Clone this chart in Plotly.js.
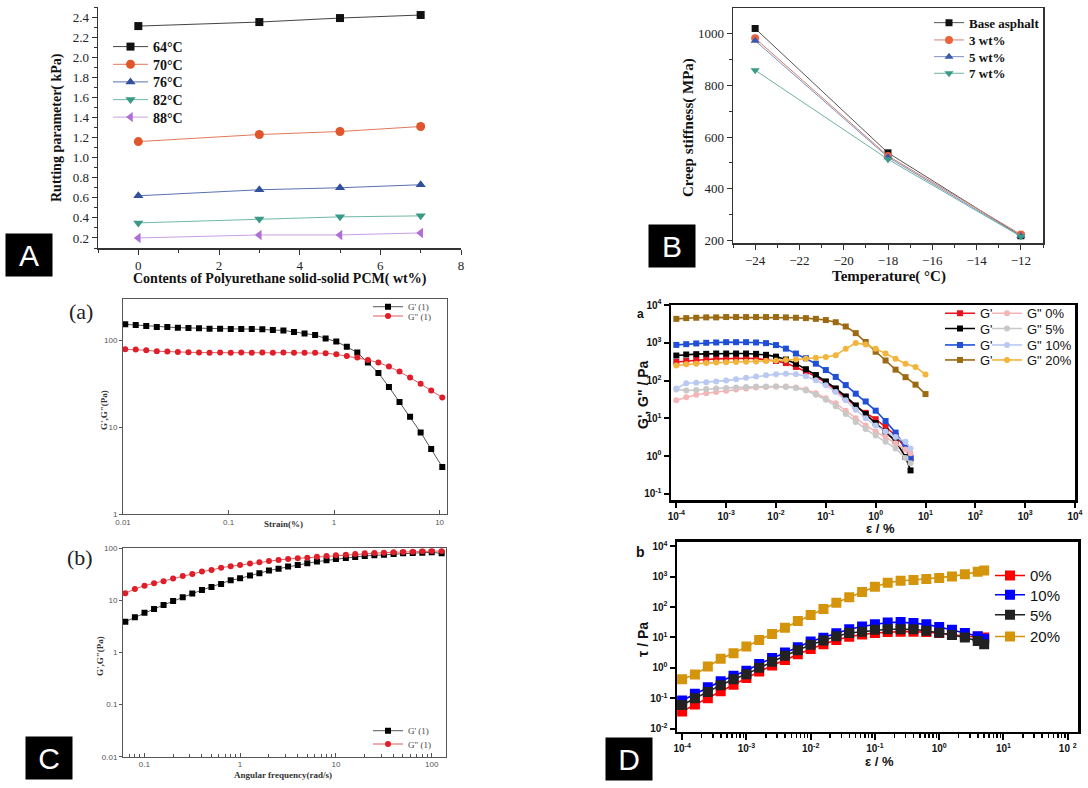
<!DOCTYPE html>
<html><head><meta charset="utf-8">
<script src="https://cdn.plot.ly/plotly-3.0.1.min.js"></script>
<style>body{margin:0;background:#fff}#chart{width:1088px;height:788px}</style>
</head><body><div id="chart"></div>
<script>
// ---------- Panel A: rutting parameter ----------
const pcmContent = [0, 3, 5, 7];
const rut64 = [2.31, 2.35, 2.39, 2.42];
const rut70 = [1.16, 1.23, 1.26, 1.31];
const rut76 = [0.62, 0.68, 0.70, 0.73];
const rut82 = [0.35, 0.39, 0.41, 0.42];
const rut88 = [0.20, 0.23, 0.23, 0.25];
const rutNames = ["64°C", "70°C", "76°C", "82°C", "88°C"];

// ---------- Panel B: creep stiffness ----------
const temps = [-24, -18, -12];
const stiffBase = [1019, 539, 219];
const stiff3 = [981, 527, 224];
const stiff5 = [972, 522, 218];
const stiff7 = [858, 514, 216];
const stiffNames = ["Base asphalt", "3 wt%", "5 wt%", "7 wt%"];

// ---------- Panel C(a): strain sweep ----------
const strainC = [0.0105, 0.0132, 0.0166, 0.0209, 0.0263, 0.0331, 0.0417, 0.0525, 0.0661, 0.0832,
  0.105, 0.132, 0.166, 0.209, 0.263, 0.331, 0.417, 0.525, 0.661, 0.832,
  1.05, 1.32, 1.66, 2.09, 2.63, 3.31, 4.17, 5.25, 6.61, 8.32, 10.6];
const gStrain1 = [154, 151, 147, 144, 144, 141, 140, 139, 137, 137, 136, 136, 136, 135, 133, 131,
  126, 121, 116, 106, 97.5, 85, 72.8, 55.9, 42.5, 29.3, 19.7, 13.3, 8.77, 5.64, 3.50];
const g2Strain1 = [79.4, 78.8, 77.5, 75.4, 75.2, 74.1, 73.5, 72.8, 72.6, 72.8, 72.5, 72.8, 72.6, 72.8, 72.4, 72.8,
  72.6, 72.5, 72.3, 71.5, 69.6, 66.6, 63.8, 60.0, 55.9, 50.2, 44.0, 37.6, 31.8, 26.6, 22.1];

// ---------- Panel C(b): frequency sweep ----------
const freqC = [0.0634, 0.0798, 0.1005, 0.1265, 0.159, 0.2, 0.252, 0.317, 0.4, 0.503,
  0.634, 0.798, 1.0, 1.27, 1.59, 2.0, 2.52, 3.17, 4.0, 5.03,
  6.34, 7.98, 10.0, 12.7, 15.9, 20.0, 25.2, 31.7, 40.0, 50.3,
  63.4, 79.8, 100, 127];
const gFreq1 = [3.91, 4.73, 5.82, 6.84, 8.17, 9.75, 11.5, 13.5, 15.8, 18.1, 20.7, 24.3, 26.5, 29.9, 33.1, 37.3,
  40.7, 44.5, 47.9, 51.5, 55.5, 58.9, 62.4, 65.2, 68.2, 71.3, 73.4, 75.5, 77.8, 80.2, 81.3, 82.6, 83.8, 80];
const g2Freq1 = [13.7, 16.6, 19.2, 21.3, 23.2, 26.2, 29.4, 32.2, 35.7, 38.4, 42.5, 45.1, 47.9, 50.8, 53.8, 57.1,
  59.7, 62.4, 64.3, 66.2, 69.2, 71.3, 73.4, 75.5, 77.8, 80.2, 81.3, 82.6, 83.8, 85.1, 86.3, 87.6, 88.9, 88.9];

// ---------- Panel D(a): amplitude sweep G', G'' ----------
const epsD = [0.0001, 0.000158, 0.000251, 0.000398, 0.000631, 0.001, 0.00158, 0.00251, 0.00398, 0.00631,
  0.01, 0.0158, 0.0251, 0.0398, 0.0631, 0.1, 0.158, 0.251, 0.398, 0.631,
  1.0, 1.58, 2.51, 3.98, 5.01];
const epsD20 = [0.0001, 0.000158, 0.000251, 0.000398, 0.000631, 0.001, 0.00158, 0.00251, 0.00398, 0.00631,
  0.01, 0.0158, 0.0251, 0.0398, 0.0631, 0.1, 0.158, 0.251, 0.398, 0.631,
  1.0, 1.58, 2.51, 3.98, 6.31, 10.0];
const gp0 = [310, 330, 350, 360, 375, 385, 390, 390, 380, 360, 330, 290, 230, 175, 125, 88, 57, 35, 21, 14, 9.5, 6, 3.5, 1.6, 0.85];
const gpp0 = [30, 36, 42, 46, 50, 54, 58, 62, 66, 68, 70, 70, 66, 58, 46, 34, 25, 16, 10, 6.5, 4.5, 3.2, 2.2, 1.5, 1.2];
const gp5 = [460, 490, 500, 510, 520, 520, 520, 520, 510, 480, 430, 360, 280, 200, 140, 95, 62, 38, 22, 13, 7.5, 4.5, 2.5, 0.95, 0.42];
const gpp5 = [58, 55, 56, 60, 62, 64, 66, 68, 70, 70, 70, 68, 64, 55, 42, 31, 21, 13, 8, 5.2, 3.5, 2.4, 1.6, 0.9, 0.65];
const gp10 = [880, 920, 960, 1000, 1020, 1040, 1040, 1040, 1020, 980, 870, 700, 520, 390, 280, 190, 125, 76, 45, 28, 16, 8.5, 4.2, 1.7, 0.9];
const gpp10 = [62, 85, 88, 90, 95, 100, 108, 118, 128, 138, 148, 152, 148, 130, 102, 75, 50, 30, 17, 10, 6.5, 4.5, 3.2, 2.4, 1.6];
const gp20 = [4300, 4500, 4600, 4700, 4700, 4800, 4800, 4800, 4800, 4800, 4800, 4700, 4600, 4500, 4300, 4000, 3500, 2700, 1800, 1050, 580, 340, 195, 123, 78, 44];
const gpp20 = [250, 270, 280, 290, 300, 305, 310, 315, 320, 330, 340, 350, 360, 380, 400, 420, 470, 700, 980, 900, 700, 520, 380, 280, 230, 145];

// ---------- Panel D(b): shear stress ----------
const tau0 = [0.037, 0.062, 0.10, 0.17, 0.28, 0.46, 0.76, 1.2, 1.8, 2.8, 4.2, 6.0, 8.3, 10.5, 12.5, 14, 15, 15.5, 15.5, 15, 14, 12.5, 11, 10.5, 10];
const tau10 = [0.085, 0.14, 0.23, 0.36, 0.55, 0.8, 1.35, 2.1, 3.2, 4.8, 7.3, 9.8, 13.7, 18.7, 23, 27, 31, 32, 30, 27, 22, 18, 14, 11, 9];
const tau5 = [0.06, 0.1, 0.16, 0.27, 0.42, 0.62, 1.0, 1.6, 2.5, 3.8, 5.8, 8.0, 11, 14, 15.5, 17.8, 18.7, 18.7, 18.5, 16.7, 14.4, 12, 10, 7.7, 6];
const tau20 = [0.42, 0.6, 1.1, 2.0, 3.0, 5.0, 8.3, 13, 21, 35, 55, 86, 138, 210, 315, 465, 630, 730, 780, 840, 900, 1020, 1200, 1450, 1580];

// ---------- tick labels ----------
const cStrainTicks = [0.01, 0.1, 1, 10];
const cStrainLabels = ["0.01", "0.1", "1", "10"];
const cModTicksA = [1, 10, 100];
const cModLabelsA = ["1", "10", "100"];
const cFreqTicks = [0.1, 1, 10, 100];
const cFreqLabels = ["0.1", "1", "10", "100"];
const cModTicksB = [0.01, 0.1, 1, 10, 100];
const cModLabelsB = ["0.01", "0.1", "1", "10", "100"];
const dXTicksA = [1e-4, 1e-3, 1e-2, 1e-1, 1, 10, 100, 1000, 10000];
const dXLabelsA = ["10<sup>-4</sup>", "10<sup>-3</sup>", "10<sup>-2</sup>", "10<sup>-1</sup>", "10<sup>0</sup>", "10<sup>1</sup>", "10<sup>2</sup>", "10<sup>3</sup>", "10<sup>4</sup>"];
const dYTicksA = [0.1, 1, 10, 100, 1000, 10000];
const dYLabelsA = ["10<sup>-1</sup>", "10<sup>0</sup>", "10<sup>1</sup>", "10<sup>2</sup>", "10<sup>3</sup>", "10<sup>4</sup>"];
const dXTicksB = [1e-4, 1e-3, 1e-2, 1e-1, 1, 10, 100];
const dXLabelsB = ["10<sup>-4</sup>", "10<sup>-3</sup>", "10<sup>-2</sup>", "10<sup>-1</sup>", "10<sup>0</sup>", "10<sup>1</sup>", "10 <sup>2</sup>"];
const dYTicksB = [0.01, 0.1, 1, 10, 100, 1000, 10000];
const dYLabelsB = ["10<sup>-2</sup>", "10<sup>-1</sup>", "10<sup>0</sup>", "10<sup>1</sup>", "10<sup>2</sup>", "10<sup>3</sup>", "10<sup>4</sup>"];

// ---------- helpers ----------
const W = 1088, H = 788;
const px = v => v / W;
const py = v => 1 - v / H;
const SERIF = "Liberation Serif, Times New Roman, serif";
const SANS = "Liberation Sans, Arial, sans-serif";

const legendSpecs = {};
let legendCount = 0;
function L(x, yc, font, iw) {
  legendCount++;
  const id = legendCount === 1 ? "legend" : "legend" + legendCount;
  legendSpecs[id] = {x: px(x), y: py(yc), xanchor: "left", yanchor: "middle",
    bgcolor: "rgba(0,0,0,0)", borderwidth: 0, font: font, itemwidth: iw || 30};
  return id;
}

function tr(x, y, name, ax, lg, color, symbol, size, lineColor, lw) {
  return {
    type: "scatter", mode: "lines+markers", x: x, y: y, name: name,
    xaxis: "x" + ax, yaxis: "y" + ax, legend: lg,
    marker: {color: color, symbol: symbol, size: size, line: {width: 0}},
    line: {color: lineColor, width: lw}
  };
}

const fA = {family: SERIF, size: 14, color: "#111", weight: "bold"};
const fB = {family: SERIF, size: 13, color: "#111", weight: "bold"};
const fC = {family: SERIF, size: 9, color: "#444"};
const fDa = {family: SANS, size: 13, color: "#111"};
const fDb = {family: SANS, size: 15, color: "#111"};

const traces = [
  tr(pcmContent, rut64, rutNames[0], "", L(108, 47, fA, 35), "#111111", "square", 8, "#444444", 1),
  tr(pcmContent, rut70, rutNames[1], "", L(108, 64.7, fA, 35), "#e0552a", "circle", 9, "#e07a5a", 1),
  tr(pcmContent, rut76, rutNames[2], "", L(108, 82.3, fA, 35), "#33509e", "triangle-up", 9, "#5a70b0", 1),
  tr(pcmContent, rut82, rutNames[3], "", L(108, 100, fA, 35), "#3a9a88", "triangle-down", 9, "#70b8a8", 1),
  tr(pcmContent, rut88, rutNames[4], "", L(108, 117.5, fA, 35), "#b06fd6", "triangle-left", 9, "#c9a0e0", 1),

  tr(temps, stiffBase, stiffNames[0], "2", L(929, 22.7, fB), "#111111", "square", 7, "#555555", 1),
  tr(temps, stiff3, stiffNames[1], "2", L(929, 40, fB), "#e8643c", "circle", 8, "#d08070", 1),
  tr(temps, stiff5, stiffNames[2], "2", L(929, 56.7, fB), "#3a58b0", "triangle-up", 8, "#8090c0", 1),
  tr(temps, stiff7, stiffNames[3], "2", L(929, 73.3, fB), "#3a9a88", "triangle-down", 8, "#70b0a0", 1),

  tr(strainC, gStrain1, "G' (1)", "3", L(368, 306.7, fC), "#000000", "square", 6, "#555555", 1),
  tr(strainC, g2Strain1, 'G" (1)', "3", L(368, 316, fC), "#e01e2a", "circle", 6, "#e05a60", 1),

  tr(freqC, gFreq1, "G' (1)", "4", L(368, 730.7, fC), "#000000", "square", 6, "#555555", 1),
  tr(freqC, g2Freq1, 'G" (1)', "4", L(368, 744, fC), "#e01e2a", "circle", 6, "#e05a60", 1),

  tr(epsD, gp0, "G'", "5", L(940, 313.3, fDa), "#e8141c", "square", 6, "#e8141c", 1.6),
  tr(epsD, gp5, "G'", "5", L(940, 328.5, fDa), "#000000", "square", 6, "#000000", 1.6),
  tr(epsD, gp10, "G'", "5", L(940, 345, fDa), "#1f4fd6", "square", 6, "#1f4fd6", 1.6),
  tr(epsD20, gp20, "G'", "5", L(940, 360, fDa), "#9c6a12", "square", 6, "#9c6a12", 1.6),
  tr(epsD, gpp0, 'G" 0%', "5", L(987, 313.3, fDa), "#f3b5b5", "circle", 6, "#f3b5b5", 1.6),
  tr(epsD, gpp5, 'G" 5%', "5", L(987, 328.5, fDa), "#c8c8c8", "circle", 6, "#c8c8c8", 1.6),
  tr(epsD, gpp10, 'G" 10%', "5", L(987, 345, fDa), "#b9c9f2", "circle", 6, "#b9c9f2", 1.6),
  tr(epsD20, gpp20, 'G" 20%', "5", L(987, 360, fDa), "#f2b43a", "circle", 6, "#f2b43a", 1.6),

  tr(epsD, tau0, "0%", "6", L(990, 575.7, fDb), "#ff0000", "square", 10, "#ff0000", 1.6),
  tr(epsD, tau10, "10%", "6", L(990, 595, fDb), "#0000ff", "square", 10, "#0000ff", 1.6),
  tr(epsD, tau5, "5%", "6", L(990, 615, fDb), "#222222", "square", 10, "#222222", 1.6),
  tr(epsD, tau20, "20%", "6", L(990, 636.7, fDb), "#d4940c", "square", 10, "#d4940c", 1.6)
];

function minorLog(lo, hi) {
  const v = [];
  for (let e = lo; e < hi; e++) for (let d = 2; d <= 9; d++) v.push(d * Math.pow(10, e));
  return v;
}

const tickA = {family: SERIF, size: 13, color: "#222"};
const tickC = {family: SANS, size: 8, color: "#555"};
const tickD = {family: SANS, size: 10, color: "#111", weight: "bold"};

const layout = Object.assign({
  width: W, height: H, margin: {l: 0, r: 0, t: 0, b: 0},
  paper_bgcolor: "#fff", plot_bgcolor: "rgba(0,0,0,0)", showlegend: true,
  // A
  xaxis: {domain: [px(98), px(461)], anchor: "y", range: [-1, 8], dtick: 2, tick0: 0,
    showline: true, linecolor: "#333", linewidth: 1.5, ticks: "outside", ticklen: 5, tickcolor: "#333",
    minor: {dtick: 1, ticks: "outside", ticklen: 3, tickcolor: "#333"}, showgrid: false, zeroline: false, tickfont: tickA},
  yaxis: {domain: [py(248), py(7)], anchor: "x", range: [0.1, 2.5], dtick: 0.2, tick0: 0, tickformat: ".1f",
    showline: true, linecolor: "#333", linewidth: 1.5, ticks: "outside", ticklen: 5, tickcolor: "#333",
    minor: {dtick: 0.1, ticks: "outside", ticklen: 3, tickcolor: "#333"}, showgrid: false, zeroline: false, tickfont: tickA},
  // B
  xaxis2: {domain: [px(733), px(1043)], anchor: "y2", range: [-25, -11], dtick: 2, tick0: -24,
    showline: true, mirror: true, linecolor: "#333", linewidth: 1.5, ticks: "outside", ticklen: 5, tickcolor: "#333",
    minor: {dtick: 1, ticks: "outside", ticklen: 3, tickcolor: "#333"}, showgrid: false, zeroline: false, tickfont: tickA},
  yaxis2: {domain: [py(243), py(8)], anchor: "x2", range: [191, 1098], dtick: 200, tick0: 200,
    showline: true, mirror: true, linecolor: "#333", linewidth: 1.5, ticks: "outside", ticklen: 5, tickcolor: "#333",
    minor: {dtick: 100, ticks: "outside", ticklen: 3, tickcolor: "#333"}, showgrid: false, zeroline: false, tickfont: tickA},
  // C(a)
  xaxis3: {domain: [px(123), px(447)], anchor: "y3", type: "log", range: [-2, 1.07],
    tickmode: "array", tickvals: cStrainTicks, ticktext: cStrainLabels,
    showline: true, mirror: true, linecolor: "#555", linewidth: 1, ticks: "inside", ticklen: 4, tickcolor: "#555",
    showgrid: false, zeroline: false, tickfont: tickC},
  yaxis3: {domain: [py(514.3), py(299.3)], anchor: "x3", type: "log", range: [0, 2.476],
    tickmode: "array", tickvals: cModTicksA, ticktext: cModLabelsA,
    showline: true, mirror: true, linecolor: "#555", linewidth: 1, ticks: "outside", ticklen: 3, tickcolor: "#555",
    showgrid: false, zeroline: false, tickfont: tickC},
  // C(b)
  xaxis4: {domain: [px(123), px(446)], anchor: "y4", type: "log", range: [-1.222, 2.149],
    tickmode: "array", tickvals: cFreqTicks, ticktext: cFreqLabels,
    showline: true, mirror: true, linecolor: "#555", linewidth: 1, ticks: "inside", ticklen: 4, tickcolor: "#555",
    minor: {tickmode: "array", tickvals: minorLog(-2, 3), ticks: "inside", ticklen: 2.5, tickcolor: "#555"},
    showgrid: false, zeroline: false, tickfont: tickC},
  yaxis4: {domain: [py(756.7), py(548.3)], anchor: "x4", type: "log", range: [-2, 2],
    tickmode: "array", tickvals: cModTicksB, ticktext: cModLabelsB,
    showline: true, mirror: true, linecolor: "#555", linewidth: 1, ticks: "outside", ticklen: 3, tickcolor: "#555",
    showgrid: false, zeroline: false, tickfont: tickC},
  // D(a)
  xaxis5: {domain: [px(671), px(1075)], anchor: "y5", type: "log", range: [-4.107, 4],
    tickmode: "array", tickvals: dXTicksA, ticktext: dXLabelsA,
    showline: true, mirror: true, linecolor: "#000", linewidth: 2.5, ticks: "outside", ticklen: 5, tickwidth: 2, tickcolor: "#000",
    showgrid: false, zeroline: false, tickfont: tickD},
  yaxis5: {domain: [py(500), py(305)], anchor: "x5", type: "log", range: [-1.16, 4],
    tickmode: "array", tickvals: dYTicksA, ticktext: dYLabelsA,
    showline: true, mirror: true, linecolor: "#000", linewidth: 2.5, ticks: "outside", ticklen: 5, tickwidth: 2, tickcolor: "#000",
    showgrid: false, zeroline: false, tickfont: tickD},
  // D(b)
  xaxis6: {domain: [px(677), px(1078)], anchor: "y6", type: "log", range: [-4.08, 2.16],
    tickmode: "array", tickvals: dXTicksB, ticktext: dXLabelsB,
    showline: true, mirror: true, linecolor: "#000", linewidth: 2.5, ticks: "outside", ticklen: 6, tickwidth: 2, tickcolor: "#000",
    minor: {tickmode: "array", tickvals: minorLog(-4, 2), ticks: "outside", ticklen: 4, tickwidth: 1.5, tickcolor: "#000"},
    showgrid: false, zeroline: false, tickfont: tickD},
  yaxis6: {domain: [py(731.7), py(541.7)], anchor: "x6", type: "log", range: [-2.1, 4.15],
    tickmode: "array", tickvals: dYTicksB, ticktext: dYLabelsB,
    showline: true, mirror: true, linecolor: "#000", linewidth: 2.5, ticks: "outside", ticklen: 5, tickwidth: 2, tickcolor: "#000",
    showgrid: false, zeroline: false, tickfont: tickD},

  annotations: [
    {text: "Contents of Polyurethane solid-solid PCM( wt%)", x: px(280), y: py(279), font: {family: SERIF, size: 14, weight: "bold", color: "#111"}},
    {text: "Rutting parameter( kPa)", x: px(57), y: py(128), textangle: -90, font: {family: SERIF, size: 14, weight: "bold", color: "#111"}},
    {text: "Temperature( °C)", x: px(889), y: py(276), font: {family: SERIF, size: 15, weight: "bold", color: "#111"}},
    {text: "Creep stiffness( MPa)", x: px(688), y: py(128), textangle: -90, font: {family: SERIF, size: 15, weight: "bold", color: "#111"}},
    {text: "Strain(%)", x: px(283), y: py(524), font: {family: SERIF, size: 9, weight: "bold", color: "#333"}},
    {text: "G',G\"(Pa)", x: px(104), y: py(410), textangle: -90, font: {family: SERIF, size: 9, weight: "bold", color: "#333"}},
    {text: "Angular frequency(rad/s)", x: px(283), y: py(775), font: {family: SERIF, size: 9, weight: "bold", color: "#333"}},
    {text: "G',G\"(Pa)", x: px(100), y: py(656), textangle: -90, font: {family: SERIF, size: 9, weight: "bold", color: "#333"}},
    {text: "(a)", x: px(81), y: py(311), font: {family: SERIF, size: 22, color: "#222"}},
    {text: "(b)", x: px(80), y: py(557), font: {family: SERIF, size: 22, color: "#222"}},
    {text: "ε / %", x: px(880), y: py(528), font: {family: SANS, size: 13, weight: "bold", color: "#111"}},
    {text: "G', G\" / Pa", x: px(643), y: py(395), textangle: -90, font: {family: SANS, size: 14, weight: "bold", color: "#111"}},
    {text: "ε / %", x: px(879), y: py(761), font: {family: SANS, size: 13, weight: "bold", color: "#111"}},
    {text: "τ / Pa", x: px(643), y: py(640), textangle: -90, font: {family: SANS, size: 14, weight: "bold", color: "#111"}},
    {text: "a", x: px(640), y: py(314), font: {family: SANS, size: 12, weight: "bold", color: "#111"}},
    {text: "b", x: px(640), y: py(552), font: {family: SANS, size: 14, weight: "bold", color: "#111"}},
    {text: "A", x: px(29), y: py(255), width: 46, height: 42, bgcolor: "#000", borderpad: 0, font: {family: SANS, size: 30, color: "#fff"}},
    {text: "B", x: px(672), y: py(246), width: 46, height: 42, bgcolor: "#000", borderpad: 0, font: {family: SANS, size: 30, color: "#fff"}},
    {text: "C", x: px(49), y: py(758), width: 46, height: 42, bgcolor: "#000", borderpad: 0, font: {family: SANS, size: 30, color: "#fff"}},
    {text: "D", x: px(629), y: py(759), width: 46, height: 42, bgcolor: "#000", borderpad: 0, font: {family: SANS, size: 30, color: "#fff"}}
  ].map(a => Object.assign({xref: "paper", yref: "paper", showarrow: false, xanchor: "center", yanchor: "middle"}, a))
}, legendSpecs);

Plotly.newPlot("chart", traces, layout, {staticPlot: true, displayModeBar: false});
</script></body></html>
